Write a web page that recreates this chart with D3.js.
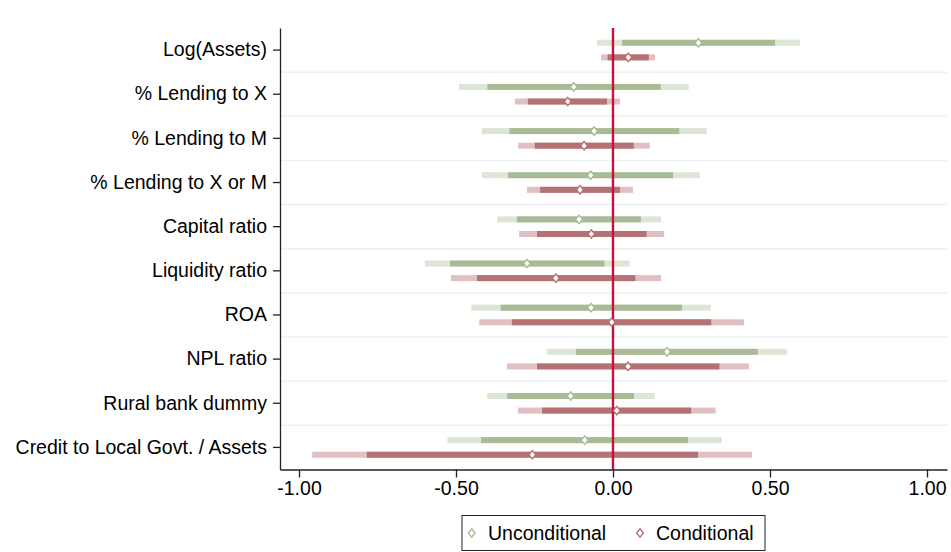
<!DOCTYPE html>
<html>
<head>
<meta charset="utf-8">
<script src="https://cdn.jsdelivr.net/npm/d3@7"></script>
<style>
  html, body { margin: 0; padding: 0; background: #fff; }
  svg text { font-family: "Liberation Sans", Arial, sans-serif; fill: #000; }
</style>
</head>
<body>
<svg id="chart" width="951" height="552"></svg>
<script>
// Coefficient estimates with 90% and 95% confidence intervals
const categories = [
  "Log(Assets)", "% Lending to X", "% Lending to M", "% Lending to X or M",
  "Capital ratio", "Liquidity ratio", "ROA", "NPL ratio",
  "Rural bank dummy", "Credit to Local Govt. / Assets"
];
const seriesNames = ["Unconditional", "Conditional"];

const uncondCoef = [0.272, -0.125, -0.060, -0.071, -0.108, -0.274, -0.070, 0.172, -0.135, -0.090];
const uncondLo90 = [0.029, -0.400, -0.330, -0.334, -0.306, -0.519, -0.358, -0.118, -0.337, -0.420];
const uncondHi90 = [0.516, 0.152, 0.211, 0.191, 0.089, -0.027, 0.220, 0.461, 0.067, 0.239];
const uncondLo95 = [-0.051, -0.490, -0.418, -0.418, -0.369, -0.599, -0.451, -0.210, -0.401, -0.527];
const uncondHi95 = [0.596, 0.241, 0.299, 0.276, 0.153, 0.053, 0.312, 0.554, 0.133, 0.347];

const condCoef = [0.049, -0.144, -0.092, -0.105, -0.069, -0.182, -0.004, 0.048, 0.012, -0.257];
const condLo90 = [-0.017, -0.271, -0.249, -0.232, -0.242, -0.433, -0.322, -0.242, -0.226, -0.784];
const condHi90 = [0.114, -0.019, 0.066, 0.022, 0.107, 0.071, 0.313, 0.339, 0.249, 0.271];
const condLo95 = [-0.038, -0.312, -0.302, -0.274, -0.299, -0.516, -0.426, -0.338, -0.303, -0.958];
const condHi95 = [0.134, 0.022, 0.117, 0.064, 0.163, 0.153, 0.417, 0.433, 0.327, 0.443];

const xTicks = [-1, -0.5, 0, 0.5, 1];

const palette = {
  Unconditional: { dark: "#a9bb96", light: "#dde5d6" },
  Conditional:   { dark: "#b57275", light: "#e1c0c3" }
};

const svg = d3.select("#chart");
const plotLeft = 280, plotRight = 947, plotTop = 28, plotBottom = 469.5;

// -1 sits at x=299 and +1 at x=927
const x = d3.scaleLinear()
  .domain([-1 - (299 - plotLeft) / 314, 1 + (plotRight - 927) / 314])
  .range([plotLeft, plotRight]);

const y = d3.scaleBand().domain(categories).range([plotTop, plotBottom]).padding(0);
const sub = d3.scalePoint().domain(seriesNames).range([-7.3, 7.3]);

// Horizontal separators between categories
svg.append("g")
  .selectAll("line")
  .data(categories.slice(1))
  .join("line")
  .attr("x1", plotLeft).attr("x2", plotRight)
  .attr("y1", d => y(d)).attr("y2", d => y(d))
  .attr("stroke", "#eaf0f3").attr("stroke-width", 1.5);

// Assemble rows per series
const rows = [];
categories.forEach((c, i) => {
  rows.push({ cat: c, s: "Unconditional", coef: uncondCoef[i], lo90: uncondLo90[i], hi90: uncondHi90[i], lo95: uncondLo95[i], hi95: uncondHi95[i] });
  rows.push({ cat: c, s: "Conditional", coef: condCoef[i], lo90: condLo90[i], hi90: condHi90[i], lo95: condLo95[i], hi95: condHi95[i] });
});
const rowY = d => y(d.cat) + y.bandwidth() / 2 + sub(d.s);
const barH = 6;

const g = svg.append("g");
// 95% intervals (light)
g.selectAll("rect.ci95").data(rows).join("rect")
  .attr("class", "ci95")
  .attr("x", d => x(d.lo95)).attr("width", d => x(d.hi95) - x(d.lo95))
  .attr("y", d => rowY(d) - barH / 2).attr("height", barH)
  .attr("fill", d => palette[d.s].light);
// 90% intervals (dark)
g.selectAll("rect.ci90").data(rows).join("rect")
  .attr("class", "ci90")
  .attr("x", d => x(d.lo90)).attr("width", d => x(d.hi90) - x(d.lo90))
  .attr("y", d => rowY(d) - barH / 2).attr("height", barH)
  .attr("fill", d => palette[d.s].dark);

// Zero reference line
svg.append("line")
  .attr("x1", x(0)).attr("x2", x(0))
  .attr("y1", plotTop).attr("y2", plotBottom)
  .attr("stroke", "#c8103a").attr("stroke-width", 2.4);

// Diamond markers for point estimates
const diamond = (hw, hh) => `M0,${-hh}L${hw},0L0,${hh}L${-hw},0Z`;
svg.append("g").selectAll("path").data(rows).join("path")
  .attr("d", diamond(3.4, 4.2))
  .attr("transform", d => `translate(${x(d.coef)},${rowY(d)})`)
  .attr("fill", "#fff")
  .attr("stroke", d => palette[d.s].dark)
  .attr("stroke-width", 1.4);

// Axes
const fontSize = "19.5px";
const yAxis = svg.append("g")
  .attr("transform", `translate(${plotLeft},0)`)
  .call(d3.axisLeft(y).tickSize(7).tickPadding(6).tickSizeOuter(0));
yAxis.select(".domain").attr("stroke", "#222").attr("stroke-width", 1.3);
yAxis.selectAll(".tick line").attr("stroke", "#222").attr("stroke-width", 1.3);
yAxis.selectAll(".tick text").attr("font-size", fontSize).attr("font-family", "Liberation Sans, Arial, sans-serif").attr("fill", "#000");

// Tick labels use a plain hyphen for negatives
const fmt = v => d3.format(".2f")(v).replace("\u2212", "-");
const xAxis = svg.append("g")
  .attr("transform", `translate(0,${plotBottom})`)
  .call(d3.axisBottom(x).tickValues(xTicks).tickFormat(fmt).tickSize(8).tickPadding(4).tickSizeOuter(0));
xAxis.select(".domain").attr("stroke", "#222").attr("stroke-width", 1.3);
xAxis.selectAll(".tick line").attr("stroke", "#222").attr("stroke-width", 1.3);
xAxis.selectAll(".tick text").attr("font-size", fontSize).attr("font-family", "Liberation Sans, Arial, sans-serif").attr("fill", "#000");

// Legend
const legend = svg.append("g");
legend.append("rect")
  .attr("x", 462).attr("y", 515.5).attr("width", 303).attr("height", 35)
  .attr("fill", "#fff").attr("stroke", "#222").attr("stroke-width", 1);
const legendItems = [
  { s: "Unconditional", mx: 471.7, tx: 488 },
  { s: "Conditional", mx: 640, tx: 656 }
];
legendItems.forEach(it => {
  legend.append("path")
    .attr("d", diamond(3.4, 4.2))
    .attr("transform", `translate(${it.mx},533)`)
    .attr("fill", "#fff").attr("stroke", palette[it.s].dark).attr("stroke-width", 1.4);
  legend.append("text")
    .attr("x", it.tx).attr("y", 533).attr("dy", "0.35em")
    .attr("font-size", fontSize).text(it.s);
});
</script>
</body>
</html>
